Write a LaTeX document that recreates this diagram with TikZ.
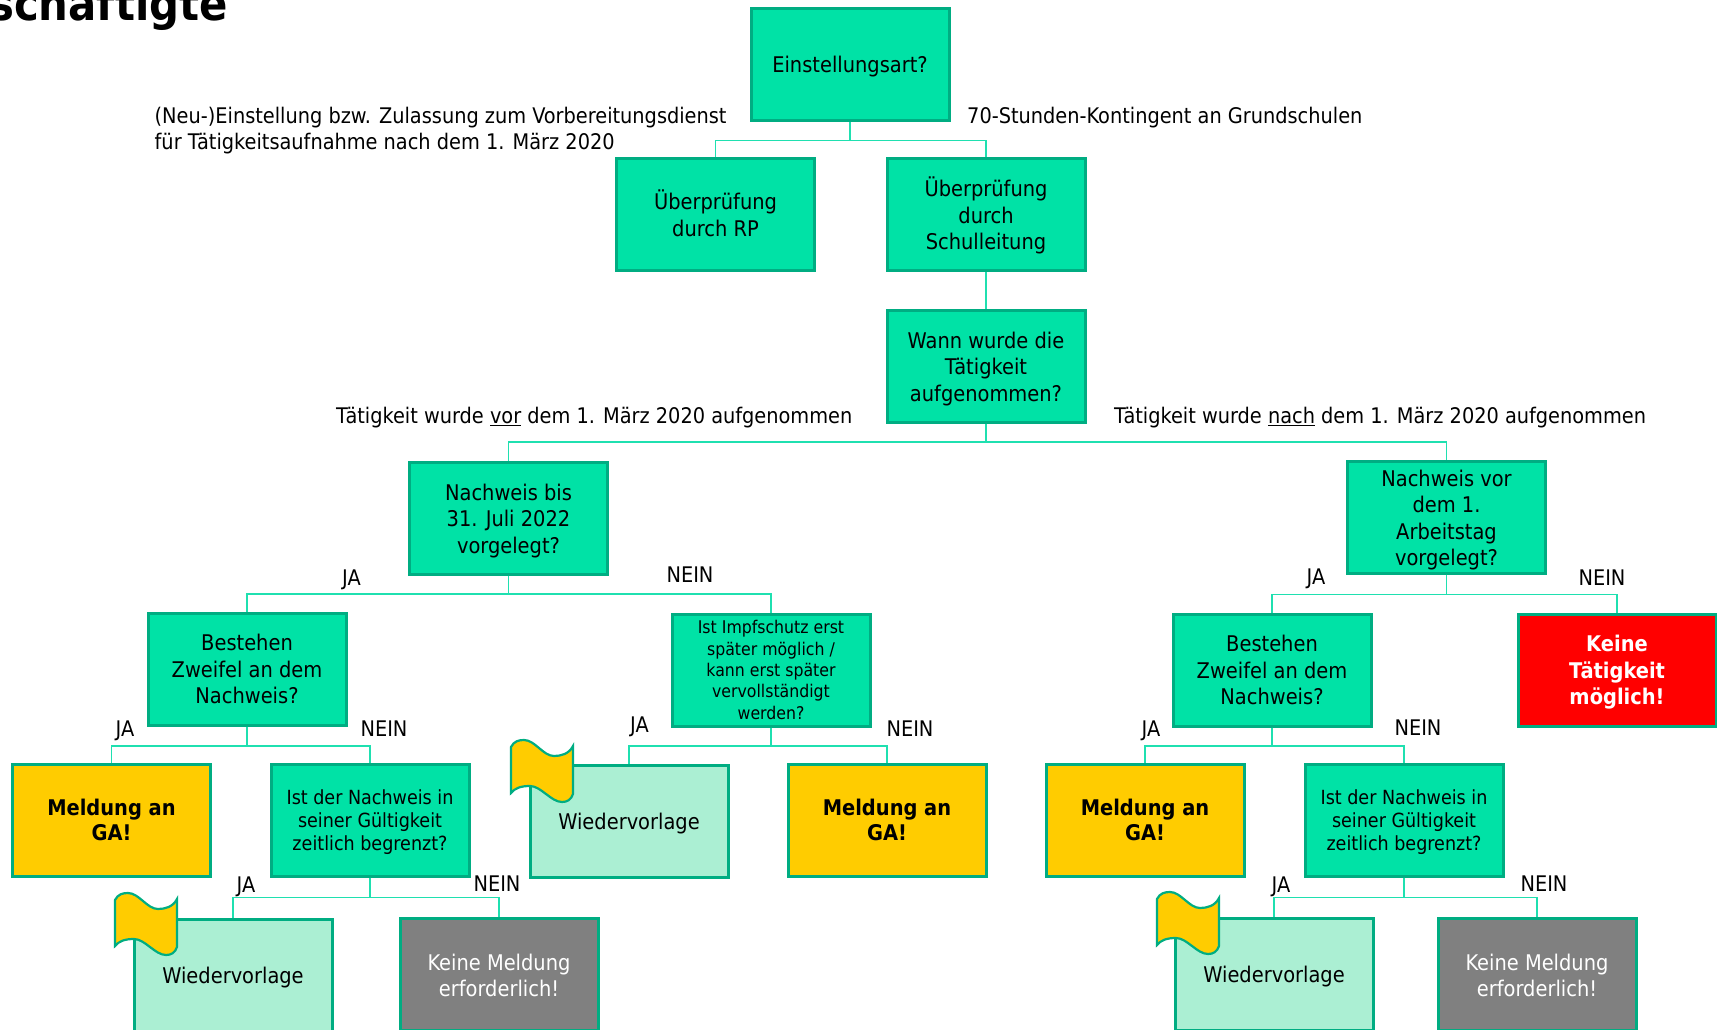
\documentclass[tikz,border=0pt]{standalone}
\usepackage{fontspec}
\setmainfont{DejaVu Sans Condensed}
\usetikzlibrary{positioning}
\definecolor{boxgreen}{HTML}{00E2A6}
\definecolor{boxline}{HTML}{00AD82}
\definecolor{paleg}{HTML}{ABEFD3}
\definecolor{flagy}{HTML}{FFCC00}
\definecolor{connline}{HTML}{1FE0B0}
\tikzset{
    base/.style={draw=boxline,line width=3pt,minimum width=198pt,minimum height=112pt,align=center,inner sep=0pt,font=\fontsize{21.6}{26.6}\selectfont},
    frage/.style={base,fill=boxgreen},
    klein/.style={frage,font=\fontsize{19.5}{22.6}\selectfont},
    winzig/.style={frage,font=\fontsize{17.5}{21.4}\selectfont},
    meldung/.style={base,fill=flagy,font=\fontsize{21.6}{25.3}\selectfont\bfseries},
    vorlage/.style={base,fill=paleg},
    keine/.style={base,fill=gray,text=white},
    stopp/.style={base,fill=red,text=white,font=\fontsize{21.6}{26.6}\selectfont\bfseries},
    lab/.style={font=\fontsize{21.5}{26.6}\selectfont,inner sep=0pt},
    conn/.style={draw=connline,line width=1.5pt},
    fahne/.style={fill=flagy,draw=boxline,line width=2.2pt}
}
\newcommand{\fahnepath}{(0,7) .. controls (3,1) and (8,0) .. (13,0) .. controls (24,0) and (32,16) .. (43,16) .. controls (50,16) and (58,14) .. (62,6) -- (62,54) .. controls (60,60) and (56,62) .. (51,62) .. controls (40,62) and (30,46) .. (19,46) .. controls (10,46) and (4,48) .. (0,53) -- cycle}
\newcommand{\tf}[1]{\rule{0pt}{#1pt}}
\begin{document}
\begin{tikzpicture}[x=1pt,y=-1pt]
    \clip (0,0) rectangle (1717,1030);
    \fill[white] (0,0) rectangle (1717,1030);

    \node[anchor=base east,inner sep=0pt,font=\fontsize{46.5}{50}\selectfont\bfseries] (titel) at (228,21) {schäftigte};

    \node[frage] (einst) at (850,65) {\tf{19}Einstellungsart?};
    \node[frage] (rp) at (715.5,214.5) {Überprüfung\\durch RP\rule[-3.2pt]{0pt}{0pt}};
    \node[frage] (schul) at (986,214.5) {\tf{22}Überprüfung\\durch\\Schulleitung};
    \node[frage] (wann) at (986,366) {\tf{22}Wann wurde die\\Tätigkeit\\aufgenommen?};

    \node[frage] (bis) at (508.5,518) {\tf{22}Nachweis bis\\31. Juli 2022\\vorgelegt?};
    \node[frage] (vor) at (1446.5,517) {\tf{22.5}Nachweis vor\\dem 1.\\Arbeitstag\\vorgelegt?};

    \node[frage] (zweifelL) at (247,669) {Bestehen\\Zweifel an dem\\Nachweis?};
    \node[winzig] (impf) at (771,670) {Ist Impfschutz erst\\später möglich /\\kann erst später\\vervollständigt\\werden?};
    \node[frage] (zweifelR) at (1272,670) {Bestehen\\Zweifel an dem\\Nachweis?};
    \node[stopp] (stopp) at (1617,670) {\tf{21}Keine\\Tätigkeit\\möglich!};

    \node[meldung] (meldL) at (111.5,820) {Meldung an\\GA!};
    \node[klein] (gueltL) at (370,820) {\tf{19.2}Ist der Nachweis in\\seiner Gültigkeit\\zeitlich begrenzt?};
    \node[vorlage] (wiedM) at (629,821.5) {\tf{21}Wiedervorlage};
    \node[meldung] (meldM) at (887,820) {Meldung an\\GA!};
    \node[meldung] (meldR) at (1145,820) {Meldung an\\GA!};
    \node[klein] (gueltR) at (1404,820) {\tf{19.2}Ist der Nachweis in\\seiner Gültigkeit\\zeitlich begrenzt?};

    \node[vorlage] (wiedL) at (233,975) {\tf{21}Wiedervorlage};
    \node[keine] (keineL) at (499,974.5) {\tf{18.5}Keine Meldung\\erforderlich!};
    \node[vorlage] (wiedR) at (1274,974.5) {\tf{21}Wiedervorlage};
    \node[keine] (keineR) at (1537,974.5) {\tf{18.5}Keine Meldung\\erforderlich!};

    \draw[fahne,shift={(115,893)}] \fahnepath;
    \draw[fahne,shift={(511,740)}] \fahnepath;
    \draw[fahne,shift={(1157,892)}] \fahnepath;

    \node[lab,anchor=north west,align=left] (neu) at (154.5,106.5) {(Neu-)Einstellung bzw. Zulassung zum Vorbereitungsdienst\\für Tätigkeitsaufnahme nach dem 1. März 2020};
    \node[lab,anchor=west] (stunden) at (967,118) {70-Stunden-Kontingent an Grundschulen};
    \node[lab,anchor=west] (vorlab) at (336,418) {Tätigkeit wurde \underline{vor} dem 1. März 2020 aufgenommen};
    \node[lab,anchor=west] (nachlab) at (1114,418) {Tätigkeit wurde \underline{nach} dem 1. März 2020 aufgenommen};

    \node[lab] (ja1) at (351.5,580) {JA};
    \node[lab] (nein1) at (690,575) {NEIN};
    \node[lab] (ja2) at (1316,579) {JA};
    \node[lab] (nein2) at (1602,578) {NEIN};
    \node[lab] (ja3) at (125,731) {JA};
    \node[lab] (nein3) at (384,729) {NEIN};
    \node[lab] (ja4) at (639.5,727) {JA};
    \node[lab] (nein4) at (910,729) {NEIN};
    \node[lab] (ja5) at (1151,731) {JA};
    \node[lab] (nein5) at (1418,728) {NEIN};
    \node[lab] (ja6) at (246,887) {JA};
    \node[lab] (nein6) at (497,884) {NEIN};
    \node[lab] (ja7) at (1281,887) {JA};
    \node[lab] (nein7) at (1544,884) {NEIN};

    \draw[conn] (einst.south) -- ++(0,18) -| (rp.north);
    \draw[conn] (einst.south) -- ++(0,18) -| (schul.north);
    \draw[conn] (schul.south) -- (wann.north);
    \draw[conn] (wann.south) -- ++(0,18.5) -| (bis.north);
    \draw[conn] (wann.south) -- ++(0,18.5) -| (vor.north);
    \draw[conn] (bis.south) -- ++(0,18.5) -| (zweifelL.north);
    \draw[conn] (bis.south) -- ++(0,18.5) -| (impf.north);
    \draw[conn] (vor.south) -- ++(0,20) -| (zweifelR.north);
    \draw[conn] (vor.south) -- ++(0,20) -| (stopp.north);
    \draw[conn] (zweifelL.south) -- ++(0,19.5) -| (meldL.north);
    \draw[conn] (zweifelL.south) -- ++(0,19.5) -| (gueltL.north);
    \draw[conn] (impf.south) -- ++(0,18.5) -| (wiedM.north);
    \draw[conn] (impf.south) -- ++(0,18.5) -| (meldM.north);
    \draw[conn] (zweifelR.south) -- ++(0,18.5) -| (meldR.north);
    \draw[conn] (zweifelR.south) -- ++(0,18.5) -| (gueltR.north);
    \draw[conn] (gueltL.south) -- ++(0,20) -| (wiedL.north);
    \draw[conn] (gueltL.south) -- ++(0,20) -| (keineL.north);
    \draw[conn] (gueltR.south) -- ++(0,20) -| (wiedR.north);
    \draw[conn] (gueltR.south) -- ++(0,20) -| (keineR.north);
\end{tikzpicture}
\end{document}
